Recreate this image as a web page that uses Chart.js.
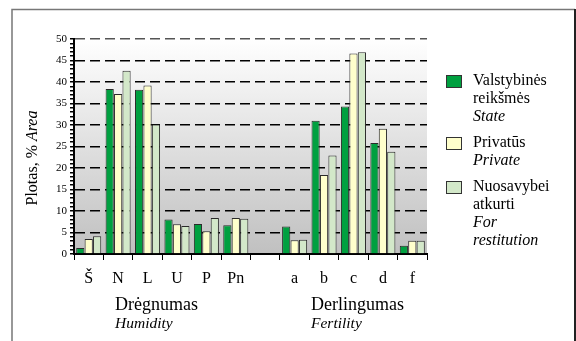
<!DOCTYPE html>
<html>
<head>
<meta charset="utf-8">
<script src="https://cdn.jsdelivr.net/npm/chart.js@4"></script>
<style>
  body { margin: 0; background: #fff; }
  #wrap { width: 576px; height: 341px; }
</style>
</head>
<body>
<div id="wrap"><canvas id="plotas" width="576" height="341"></canvas></div>
<script>
// kategorijos: drėgnumas (Š..Pn), tuščias tarpas, derlingumas (a..f)
const categories = ["Š", "N", "L", "U", "P", "Pn", "", "a", "b", "c", "d", "f"];
const valstybines = [1.4, 38.4, 38.2, 8.0, 7.0, 6.7, null, 6.4, 31.0, 34.3, 25.8, 1.9];
const privatus = [3.5, 37.2, 39.2, 6.9, 5.3, 8.4, null, 3.2, 18.4, 46.6, 29.1, 3.1];
const atkurti = [4.1, 42.6, 30.1, 6.5, 8.4, 8.2, null, 3.3, 22.9, 46.9, 23.8, 3.1];
const seriesLt = [["Valstybinės", "reikšmės"], ["Privatūs"], ["Nuosavybei", "atkurti"]];
const seriesEn = [["State"], ["Private"], ["For", "restitution"]];
const seriesColors = ["#00a040", "#ffffcc", "#d3e8c9"];
const yTicks = [0, 5, 10, 15, 20, 25, 30, 35, 40, 45, 50];

const serif = "'Liberation Serif', 'DejaVu Serif', serif";

// fonas, rėmelis, legenda ir antraštės
const extras = {
  id: "extras",
  beforeDraw(chart) {
    const {ctx, chartArea: a} = chart;
    const g = ctx.createLinearGradient(0, a.top, 0, a.bottom);
    g.addColorStop(0, "#ffffff");
    g.addColorStop(1, "#c0c0c0");
    ctx.save();
    ctx.fillStyle = g;
    ctx.fillRect(a.left, a.top, a.right - a.left, a.bottom - a.top);
    ctx.restore();
  },
  afterDraw(chart) {
    const ctx = chart.ctx;
    ctx.save();
    // rėmelis
    ctx.lineWidth = 1.5;
    ctx.strokeStyle = "#777";
    ctx.beginPath();
    ctx.moveTo(12, 341); ctx.lineTo(12, 9.5); ctx.lineTo(575, 9.5);
    ctx.stroke();
    ctx.lineWidth = 2;
    ctx.strokeStyle = "#222";
    ctx.beginPath();
    ctx.moveTo(575, 9); ctx.lineTo(575, 341);
    ctx.stroke();

    // legenda
    ctx.textBaseline = "middle";
    ctx.textAlign = "left";
    let y = 81;
    chart.data.datasets.forEach((ds, i) => {
      ctx.fillStyle = ds.backgroundColor;
      ctx.fillRect(446, y - 6, 16, 13);
      ctx.lineWidth = 1;
      ctx.strokeStyle = "#333";
      ctx.strokeRect(446.5, y - 5.5, 15, 12);
      ctx.fillStyle = "#000";
      ctx.font = "16px " + serif;
      seriesLt[i].forEach(t => { ctx.fillText(t, 473, y); y += 18; });
      ctx.font = "italic 16px " + serif;
      seriesEn[i].forEach(t => { ctx.fillText(t, 473, y); y += 18; });
      y += 8;
    });

    // grupių pavadinimai
    ctx.font = "18px " + serif;
    ctx.fillText("Drėgnumas", 115, 305);
    ctx.fillText("Derlingumas", 311, 305);
    ctx.font = "italic 15.5px " + serif;
    ctx.fillText("Humidity", 115, 324);
    ctx.fillText("Fertility", 311, 324);

    // y ašies pavadinimas
    ctx.translate(33, 158);
    ctx.rotate(-Math.PI / 2);
    ctx.font = "16px " + serif;
    const p1 = "Plotas, % ";
    const w1 = ctx.measureText(p1).width;
    ctx.font = "italic 16px " + serif;
    const w2 = ctx.measureText("Area").width;
    const x0 = -(w1 + w2) / 2;
    ctx.font = "16px " + serif;
    ctx.fillText(p1, x0, 0);
    ctx.font = "italic 16px " + serif;
    ctx.fillText("Area", x0 + w1, 0);
    ctx.restore();
  }
};

new Chart("plotas", {
  type: "bar",
  data: {
    labels: categories,
    datasets: [valstybines, privatus, atkurti].map((d, i) => ({
      label: seriesLt[i].join(" "),
      data: d,
      backgroundColor: seriesColors[i],
      borderColor: "#2a2a2a",
      borderWidth: 1,
      categoryPercentage: 0.86,
      barPercentage: 0.97
    }))
  },
  options: {
    responsive: false,
    animation: false,
    devicePixelRatio: 1,
    layout: { padding: { top: 39, right: 149, left: 0, bottom: 0 } },
    plugins: {
      legend: { display: false },
      tooltip: { enabled: false }
    },
    scales: {
      x: {
        afterFit: s => { s.height = 87; },
        grid: {
          offset: true,
          drawOnChartArea: false,
          tickLength: 6,
          tickColor: "#000",
          color: "#000"
        },
        border: { color: "#000", width: 2 },
        ticks: {
          color: "#000",
          padding: 9,
          font: { family: serif, size: 16 }
        }
      },
      y: {
        min: 0,
        max: 50,
        afterFit: s => { s.width = 74; },
        afterBuildTicks: s => {
          const t = [];
          for (let v = 0; v <= 50; v++) t.push({ value: v });
          s.ticks = t;
        },
        grid: {
          color: c => (yTicks.includes(c.tick.value) && c.tick.value > 0 ? (c.tick.value === 50 ? "#555" : "#000") : "rgba(0,0,0,0)"),
          tickColor: "#000",
          tickLength: 4,
          lineWidth: 1.5
        },
        border: { color: "#000", width: 2, dash: [10, 5] },
        ticks: {
          color: "#000",
          padding: 3,
          autoSkip: false,
          font: { family: serif, size: 11 },
          callback: v => (yTicks.includes(v) ? v : "")
        }
      }
    }
  },
  plugins: [extras]
});
</script>
</body>
</html>
